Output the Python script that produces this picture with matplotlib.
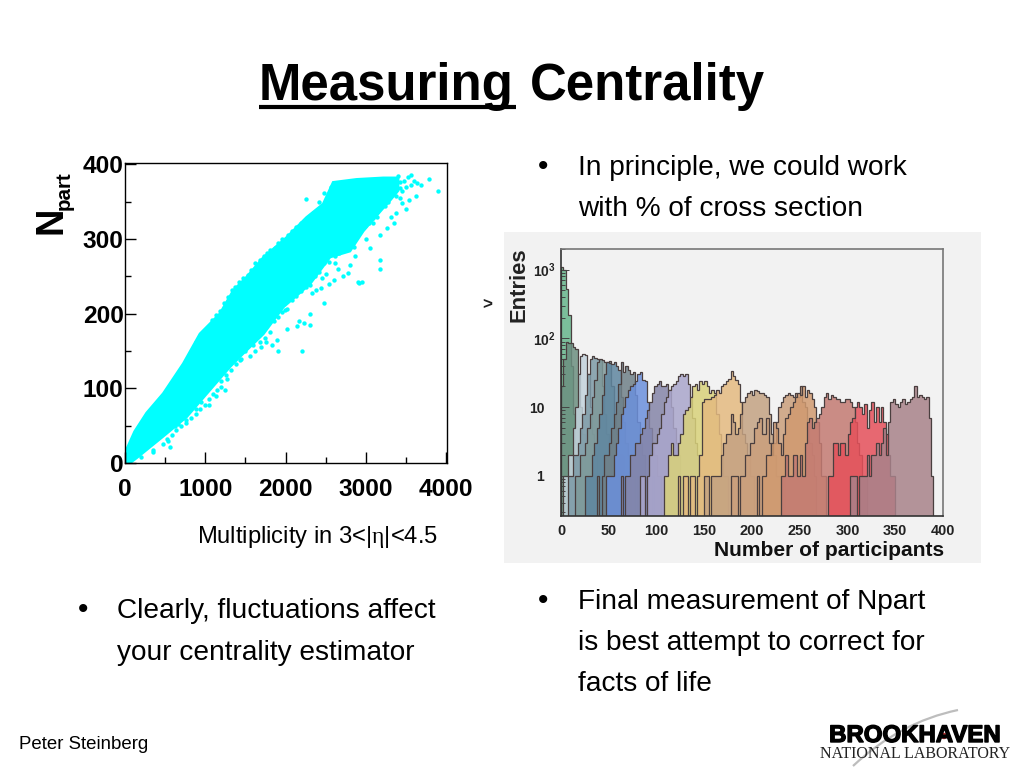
import matplotlib
matplotlib.use("Agg")
import matplotlib.pyplot as plt
from matplotlib.patches import Rectangle, Circle, PathPatch
from matplotlib.path import Path
import matplotlib.patheffects as pe
import numpy as np

SANS = ['Liberation Sans', 'DejaVu Sans']
plt.rcParams['font.family'] = SANS
plt.rcParams['mathtext.fontset'] = 'custom'
plt.rcParams['mathtext.rm'] = 'Liberation Serif'
plt.rcParams['mathtext.it'] = 'Liberation Serif'
plt.rcParams['mathtext.bf'] = 'Liberation Sans:bold'

# ---- text ----
title_underlined = "Measuring"
title_rest = "Centrality"
bullets_right_top = ["In principle, we could work", "with % of cross section"]
bullets_right_bot = ["Final measurement of Npart", "is best attempt to correct for", "facts of life"]
bullets_left = ["Clearly, fluctuations affect", "your centrality estimator"]
author = "Peter Steinberg"

# ---- scatter: band outline ----
upper_x = [0, 20, 120, 270, 477, 726, 934, 1183, 1349, 1515, 1722, 2012, 2261, 2469, 2593, 2884, 3216, 3400]
upper_y = [0, 18, 42, 67, 93, 133, 173, 200, 231, 249, 275, 302, 329, 347, 376, 380, 382, 382]
lower_x = [3400, 3300, 3216, 2967, 2801, 2552, 2303, 1971, 1722, 1473, 1307, 1017, 768, 477, 145, 60]
lower_y = [365, 352, 342, 311, 284, 276, 240, 209, 173, 147, 129, 93, 62, 36, 7, 0]
out_x = [3900, 3780, 3680, 3640, 3600, 3560, 3620, 3540, 3500, 3450, 3420, 3380, 3350, 3310, 3260, 3180, 3180, 3170,
         3050, 2950, 2920, 2900, 2800, 2780, 2720, 2650, 2600, 2540, 2480, 2440, 2380, 2300, 2300, 2230, 2210, 2170,
         2140, 2020, 1900, 1890, 1830, 1760, 1690, 1590, 1500, 1430, 1270, 1240, 1130, 1190, 1040, 950, 890, 760,
         660, 560, 540, 470, 440, 350, 350, 200, 2260, 2410, 2480, 2650, 2700, 2750, 2850, 2900, 3000, 3100, 3300,
         2060, 1990, 1780, 1640, 1400, 1100, 780, 620, 2500, 2330, 2450, 2620, 2860,
         3560, 3520, 3470, 3430, 3400, 3360, 3330, 3450, 3500, 3380, 3420, 3280, 3240, 3200, 3140, 3090,
         2570, 2510, 2540, 2420, 2390, 2340, 2240, 2190, 2130, 2080, 2030, 1960, 1910, 1870, 1810, 1770, 1730,
         1680, 1620, 1570, 1530, 1470, 1420, 1370, 1330, 1280, 1230, 1180, 1130, 1080, 1030, 980, 930, 880,
         830, 780, 730, 680, 640, 590, 540, 490, 440, 400, 360,
         2300, 2360, 2420, 2480, 2540, 2610, 2670, 2730, 2790, 2840, 2890, 2940, 2990, 3040, 3090, 3140,
         1560, 1620, 1680, 1740, 1800, 1850, 1910, 1960, 2020, 2080, 2130, 2190, 2250,
         1040, 1090, 1150, 1200, 1260, 1320, 1380, 1440, 1500,
         520, 580, 640, 700, 760, 820, 880, 940, 1000]
out_y = [365, 380, 373, 375, 378, 372, 358, 352, 340, 348, 355, 335, 322, 330, 315, 272, 260, 305,
         288, 242, 241, 242, 265, 255, 250, 260, 245, 240, 215, 235, 232, 185, 200, 187, 150, 190,
         184, 180, 150, 165, 158, 162, 155, 158, 160, 138, 112, 98, 90, 102, 78, 82, 72, 58,
         52, 22, 30, 25, 38, 15, 18, 8, 354, 350, 362, 345, 335, 310, 290, 328, 300, 352, 362,
         222, 205, 195, 170, 148, 118, 72, 50, 253, 228, 248, 268, 278,
         386, 383, 378, 376, 384, 380, 373, 365, 370, 358, 368, 350, 345, 348, 330, 322,
         370, 353, 360, 340, 335, 335, 325, 322, 316, 311, 305, 300, 295, 288, 286, 282, 278,
         272, 268, 258, 252, 248, 242, 236, 232, 222, 214, 204, 198, 192, 182, 176, 170, 162,
         148, 138, 131, 122, 114, 104, 98, 92, 86, 80, 74,
         238, 250, 256, 268, 270, 278, 282, 292, 296, 300, 306, 312, 318, 322, 328, 336,
         144, 150, 162, 168, 176, 190, 196, 202, 206, 218, 224, 230, 236,
         86, 92, 98, 110, 118, 124, 132, 140, 150,
         32, 38, 44, 50, 54, 60, 66, 72, 78]

# ---- histogram: start of each class and counts per bin ----
bin_width = 2.5
class_starts = [0, 0, 2.5, 7.5, 15, 25, 37.5, 47.5, 62.5, 82.5, 107.5, 122.5, 150, 177.5, 205, 230, 280, 302.5]
class_counts = [
    [1100, 1000, 520, 220, 40, 8, 3, 2, 1, 2, 1, 0, 1, 1],
    [20, 50, 90, 85, 85, 75, 70, 30, 10, 4, 2, 2, 1, 1, 0, 1],
    [1, 1, 2, 2, 5, 10, 30, 55, 60, 58, 30, 10, 4, 2, 1, 1, 0, 1],
    [1, 1, 2, 2, 3, 5, 8, 15, 30, 50, 55, 52, 50, 48, 20, 8, 4, 2, 1, 1, 0, 1],
    [1, 1, 2, 2, 3, 5, 8, 14, 25, 45, 50, 48, 46, 45, 47, 20, 8, 4, 2, 2, 1, 0, 1],
    [1, 1, 1, 2, 3, 5, 8, 15, 30, 45, 44, 42, 45, 40, 35, 14, 6, 3, 2, 1, 1, 0, 1],
    [1, 0, 1, 2, 2, 3, 5, 8, 12, 22, 45, 32, 40, 35, 30, 32, 15, 6, 3, 2, 1, 1, 0, 1],
    [1, 1, 1, 2, 3, 5, 8, 10, 14, 18, 20, 22, 24, 30, 32, 25, 24, 12, 5, 3, 2, 1, 1, 0, 1],
    [1, 0, 1, 1, 2, 2, 3, 3, 4, 5, 7, 9, 12, 16, 20, 22, 24, 20, 20, 22, 18, 10, 5, 3, 2, 1, 1, 0, 1],
    [1, 1, 0, 1, 2, 3, 3, 4, 5, 8, 12, 14, 18, 20, 22, 24, 28, 30, 28, 30, 22, 14, 7, 3, 2, 1, 1],
    [1, 1, 2, 3, 2, 2, 3, 4, 8, 9, 10, 14, 20, 22, 18, 24, 22, 24, 20, 16, 18, 16, 8, 4, 2, 1, 1, 0, 1],
    [1, 0, 1, 1, 0, 1, 1, 0, 1, 2, 12, 13, 13, 13, 14, 15, 18, 16, 20, 22, 24, 26, 34, 28, 25, 22, 12, 4, 3, 2, 1, 1, 0, 1],
    [1, 1, 0, 1, 1, 1, 1, 2, 3, 4, 4, 8, 6, 4, 5, 8, 12, 14, 16, 17, 15, 18, 17, 16, 16, 15, 14, 8, 4, 2, 1, 1, 0, 1],
    [1, 1, 1, 0, 1, 1, 2, 2, 3, 3, 5, 6, 7, 4, 4, 7, 3, 2, 3, 6, 10, 12, 14, 15, 16, 15, 14, 16, 14, 20, 12, 10, 6, 3, 2, 1],
    [1, 0, 1, 1, 2, 2, 3, 6, 5, 3, 2, 4, 7, 8, 10, 12, 14, 16, 15, 20, 14, 18, 16, 13, 10, 6, 3, 1, 1],
    [1, 1, 2, 1, 1, 2, 2, 1, 2, 1, 3, 6, 7, 5, 6, 7, 8, 10, 14, 16, 13, 15, 14, 13, 13, 12, 12, 13, 13, 12, 10, 6, 3, 2, 1, 1],
    [1, 1, 3, 3, 2, 3, 3, 2, 4, 6, 7, 10, 12, 10, 8, 11, 5, 9, 12, 6, 10, 6, 10, 6, 4, 2, 1, 1],
    [1, 1, 1, 0, 1, 1, 1, 2, 1, 2, 2, 3, 2, 3, 5, 2, 6, 12, 13, 11, 10, 12, 13, 11, 12, 13, 14, 20, 14, 15, 14, 13, 14, 7, 1, 0],
]
class_colors = ['#66b58c', '#6c8f80', '#c3d3dc', '#7d9aa6', '#7f9a9a', '#5f86a0', '#708088', '#6b90dc',
                '#8585a8', '#aaa6cc', '#d9d27a', '#e4ba80', '#c4a282', '#cb9f7c', '#d09a70', '#c47a72',
                '#e6505a', '#a8828a']
hist_xticks = [0, 50, 100, 150, 200, 250, 300, 350, 400]

W, H = 1024, 768
fig = plt.figure(figsize=(W / 100, H / 100), dpi=100, facecolor='white')

def px_axes(l, t, r, b, **kw):
    return fig.add_axes([l / W, 1 - b / H, (r - l) / W, (b - t) / H], **kw)

bg = fig.add_axes([0, 0, 1, 1], zorder=0)
bg.set_xlim(0, W); bg.set_ylim(H, 0); bg.axis('off')

def pt(px):
    return px * 0.72

# title
bg.text(259, 100, title_underlined, fontsize=pt(51), fontweight='bold', va='baseline', ha='left')
bg.text(530, 100, title_rest, fontsize=pt(51), fontweight='bold', va='baseline', ha='left')
bg.plot([259, 516], [107, 107], color='black', lw=3, solid_capstyle='butt')

# bullets
def bullet_block(xb, xt, ys, lines):
    bg.text(xb, ys[0], "\u2022", fontsize=pt(30), va='baseline', ha='left')
    for y, s in zip(ys, lines):
        bg.text(xt, y, s, fontsize=pt(28), va='baseline', ha='left')

bullet_block(538, 578, [175, 216], bullets_right_top)
bullet_block(538, 578, [609, 650, 691], bullets_right_bot)
bullet_block(78, 117, [618, 660], bullets_left)
bg.text(19, 749, author, fontsize=pt(18.6), va='baseline', ha='left')
bg.text(197, 543, r"Multiplicity in 3<|$\mathrm{\eta}$|<4.5", fontsize=pt(23.8), va='baseline', ha='left')
bg.text(62, 234, "N", fontsize=pt(38), fontweight='bold', rotation=90, va='baseline', ha='left', rotation_mode='anchor')
bg.text(70, 210, "part", fontsize=pt(20.5), fontweight='bold', rotation=90, va='baseline', ha='left', rotation_mode='anchor')
bg.text(492, 305, ">", fontsize=pt(17), fontweight='bold', ha='right', va='center', color='#222222')

# scatter panel
ax = px_axes(125, 163, 447, 463, zorder=2)
ax.set_xlim(0, 4010); ax.set_ylim(0, 402)
ax.fill(upper_x + lower_x, upper_y + lower_y, color='#00ffff', lw=2)
ax.scatter(out_x, out_y, s=10, color='#00ffff', lw=0, clip_on=True)
ax.set_xticks([0, 1000, 2000, 3000, 4000])
ax.set_yticks([0, 100, 200, 300, 400])
ax.set_xticks([500, 1500, 2500, 3500], minor=True)
ax.set_yticks([50, 150, 250, 350], minor=True)
ax.tick_params(which='major', direction='in', length=8, width=1, pad=1)
ax.tick_params(which='minor', direction='in', length=4, width=1)
ax.tick_params(axis='x', which='major', pad=11)
for lab in ax.get_xticklabels() + ax.get_yticklabels():
    lab.set_fontsize(pt(24.5)); lab.set_fontweight('bold')
for s in ax.spines.values():
    s.set_linewidth(1)

# histogram panel
bg.add_patch(Rectangle((504, 232), 477, 331, facecolor='#f2f2f2', edgecolor='none', zorder=3))
hx = px_axes(561, 249, 943, 516, zorder=4, facecolor='#f2f2f2')
hx.set_yscale('log')
hx.set_xlim(0, 400); hx.set_ylim(0.26, 2000)
floor = 0.26
for start, counts, color in zip(class_starts, class_counts, class_colors):
    vals = np.where(np.array(counts, float) > 0, np.array(counts, float), floor)
    edges = start + bin_width * np.arange(len(vals) + 1)
    hx.stairs(vals, edges, baseline=floor, fill=True, color=color, alpha=0.85, lw=0)
    hx.stairs(vals, edges, baseline=floor, fill=False, color='#4a3f3f', lw=0.9)
hx.set_xticks(hist_xticks)
hx.set_yticks([1, 10, 100, 1000])
hx.set_yticklabels(['1', '10', r'$\mathbf{10^{2}}$', r'$\mathbf{10^{3}}$'])
hx.tick_params(which='both', direction='in', color='#444444', width=0.7)
hx.tick_params(axis='x', length=0, pad=6, labelsize=pt(14.5), labelcolor='#222222')
hx.tick_params(axis='y', which='major', length=6, pad=4, labelsize=pt(14), labelcolor='#222222')
hx.tick_params(axis='y', which='minor', length=3)
for lab in hx.get_xticklabels() + hx.get_yticklabels():
    lab.set_fontweight('bold')
for tick in hx.yaxis.get_major_ticks()[:2]:
    tick.set_pad(12)
for s in hx.spines.values():
    s.set_color('#777777'); s.set_linewidth(1.2)
hx.spines['bottom'].set_color('#333333')
hx.spines['left'].set_color('#333333')

top = fig.add_axes([0, 0, 1, 1], zorder=5)
top.set_xlim(0, W); top.set_ylim(H, 0); top.axis('off'); top.patch.set_alpha(0)
top.text(944, 556, "Number of participants", fontsize=pt(21), fontweight='bold', ha='right', va='baseline', color='#111111')
top.text(525, 322, "Entries", fontsize=pt(22), fontweight='bold', rotation=90, ha='left', va='baseline', rotation_mode='anchor', color='#222222')

# logo
swoosh = Path([(853, 766), (900, 722), (958, 710)], [Path.MOVETO, Path.CURVE3, Path.CURVE3])
top.add_patch(PathPatch(swoosh, fill=False, edgecolor='#bdbdbd', lw=1.6))
top.text(915, 742, "BROOKHAVEN", fontsize=pt(24), fontweight='bold', ha='center', va='baseline', color='black',
         path_effects=[pe.withStroke(linewidth=1, foreground='black')])
top.add_patch(Circle((944, 736), 2.5, color='#c03030'))
top.text(915, 758, "NATIONAL LABORATORY", fontsize=pt(16), family='Liberation Serif', ha='center', va='baseline', color='#222222')

fig.savefig('out.png', dpi=100)
